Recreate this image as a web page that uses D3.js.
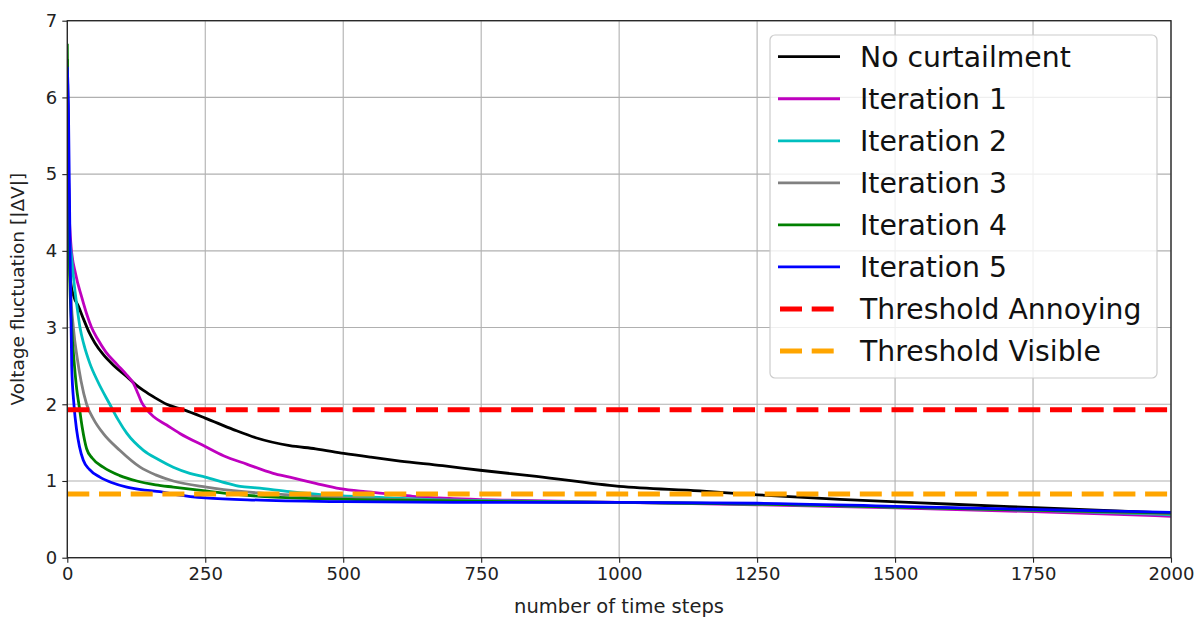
<!DOCTYPE html>
<html>
<head>
<meta charset="utf-8">
<script src="https://cdn.jsdelivr.net/npm/d3@7"></script>
<style>
  html, body { margin: 0; padding: 0; background: #fff; }
  svg { display: block; font-family: "DejaVu Sans", sans-serif; }
</style>
</head>
<body>
<svg id="chart" width="1203" height="621"></svg>
<script>
// Sorted voltage fluctuation curves: [time step, |ΔV|]
const noCurtailment = [[0,6.5],[3,4.5],[6,3.6],[12,3.4],[20,3.28],[30,3.1],[40,2.93],[50,2.8],[65,2.65],[85,2.5],[108,2.36],[125,2.25],[138,2.18],[160,2.08],[180,2.0],[210,1.93],[250,1.82],[301,1.67],[343,1.56],[403,1.46],[450,1.42],[501,1.36],[550,1.31],[603,1.26],[680,1.2],[748,1.14],[850,1.06],[1000,0.93],[1146,0.87],[1251,0.82],[1400,0.76],[1594,0.70],[1800,0.64],[2000,0.58]];
const iteration1 = [[0,6.3],[3,4.6],[7,4.05],[15,3.7],[26,3.4],[35,3.18],[44,3.0],[55,2.85],[70,2.68],[90,2.52],[108,2.38],[120,2.27],[128,2.14],[135,2.02],[145,1.92],[156,1.84],[180,1.73],[204,1.62],[250,1.45],[283,1.33],[325,1.22],[373,1.1],[403,1.05],[450,0.97],[494,0.90],[540,0.86],[585,0.83],[626,0.80],[700,0.77],[800,0.75],[1000,0.72],[1250,0.69],[1500,0.65],[1750,0.60],[2000,0.54]];
const iteration2 = [[0,6.2],[3,4.3],[8,3.9],[12,3.6],[18,3.25],[23,3.0],[30,2.78],[41,2.53],[55,2.3],[77,2.0],[92,1.8],[108,1.62],[138,1.40],[165,1.28],[192,1.18],[222,1.10],[250,1.05],[290,0.97],[313,0.93],[343,0.91],[403,0.86],[463,0.82],[550,0.79],[650,0.76],[800,0.74],[1000,0.72],[1250,0.70],[1500,0.66],[1750,0.62],[2000,0.56]];
const iteration3 = [[0,6.0],[3,4.2],[6,3.5],[11,3.0],[18,2.6],[25,2.3],[35,2.0],[48,1.8],[65,1.62],[95,1.40],[132,1.18],[160,1.08],[192,1.0],[252,0.92],[320,0.86],[403,0.82],[500,0.78],[650,0.75],[800,0.73],[1000,0.72],[1250,0.70],[1500,0.66],[1750,0.62],[2000,0.57]];
const iteration4 = [[0,6.7],[2,5.0],[4,3.8],[8,3.0],[13,2.5],[17,2.2],[21,2.0],[27,1.7],[35,1.42],[45,1.3],[65,1.18],[95,1.07],[126,1.0],[160,0.95],[192,0.92],[250,0.87],[300,0.83],[350,0.80],[450,0.77],[600,0.75],[800,0.73],[1000,0.72],[1250,0.70],[1500,0.66],[1750,0.62],[2000,0.58]];
const iteration5 = [[0,6.4],[2,5.9],[5,4.0],[8,2.5],[12,2.0],[17,1.66],[22,1.45],[29,1.27],[40,1.15],[59,1.05],[80,0.98],[108,0.92],[140,0.88],[168,0.86],[200,0.82],[250,0.78],[350,0.75],[500,0.73],[750,0.72],[1000,0.72],[1250,0.71],[1500,0.67],[1750,0.63],[2000,0.59]];

const thresholdAnnoying = 1.93;
const thresholdVisible = 0.83;

const xTicks = [0, 250, 500, 750, 1000, 1250, 1500, 1750, 2000];
const yTicks = [0, 1, 2, 3, 4, 5, 6, 7];

const seriesNames = ["No curtailment", "Iteration 1", "Iteration 2", "Iteration 3", "Iteration 4", "Iteration 5"];
const seriesData = [noCurtailment, iteration1, iteration2, iteration3, iteration4, iteration5];
const seriesColors = ["#000000", "#bf00bf", "#00bfbf", "#808080", "#008000", "#0000ff"];
const thresholdNames = ["Threshold Annoying", "Threshold Visible"];
const thresholdValues = [thresholdAnnoying, thresholdVisible];
const thresholdColors = ["#ff0000", "#ffa500"];

const svg = d3.select("#chart");
const margin = { left: 67.3, right: 1171, top: 20.7, bottom: 557.7 };

const x = d3.scaleLinear().domain([0, 2000]).range([margin.left, margin.right]);
const y = d3.scaleLinear().domain([0, 7]).range([margin.bottom, margin.top]);

// grid
const grid = svg.append("g").attr("stroke", "#b0b0b0").attr("stroke-width", 1.1);
grid.selectAll(".gx").data(xTicks).join("line")
  .attr("x1", d => x(d)).attr("x2", d => x(d))
  .attr("y1", margin.top).attr("y2", margin.bottom);
grid.selectAll(".gy").data(yTicks).join("line")
  .attr("x1", margin.left).attr("x2", margin.right)
  .attr("y1", d => y(d)).attr("y2", d => y(d));

// curves
const line = d3.line().x(d => x(d[0])).y(d => y(d[1])).curve(d3.curveMonotoneX);
svg.append("clipPath").attr("id", "plotclip").append("rect")
  .attr("x", margin.left).attr("y", margin.top)
  .attr("width", margin.right - margin.left).attr("height", margin.bottom - margin.top);

const plot = svg.append("g").attr("clip-path", "url(#plotclip)");
seriesData.forEach((data, i) => {
  plot.append("path").datum(data)
    .attr("fill", "none")
    .attr("stroke", seriesColors[i])
    .attr("stroke-width", 2.8)
    .attr("stroke-linejoin", "round")
    .attr("d", line);
});

// thresholds
thresholdValues.forEach((v, i) => {
  plot.append("line")
    .attr("x1", x(0)).attr("x2", x(2000))
    .attr("y1", y(v)).attr("y2", y(v))
    .attr("stroke", thresholdColors[i])
    .attr("stroke-width", 5)
    .attr("stroke-dasharray", "22 9.7");
});

// axes
const xAxis = d3.axisBottom(x).tickValues(xTicks).tickSize(5).tickPadding(5).tickFormat(d3.format("d"));
const yAxis = d3.axisLeft(y).tickValues(yTicks).tickSize(5).tickPadding(5).tickFormat(d3.format("d"));

const gx = svg.append("g").attr("transform", `translate(0,${margin.bottom})`).call(xAxis);
const gy = svg.append("g").attr("transform", `translate(${margin.left},0)`).call(yAxis);
[gx, gy].forEach(g => {
  g.select(".domain").remove();
  g.selectAll(".tick line").attr("stroke", "#222").attr("stroke-width", 1.1);
  g.selectAll(".tick text").attr("fill", "#222").style("font-size", "18px").style("font-family", "'DejaVu Sans', sans-serif");
});

// frame
svg.append("rect")
  .attr("x", margin.left).attr("y", margin.top)
  .attr("width", margin.right - margin.left).attr("height", margin.bottom - margin.top)
  .attr("fill", "none").attr("stroke", "#222").attr("stroke-width", 1.3);

// axis labels
svg.append("text")
  .attr("x", 619).attr("y", 613)
  .attr("text-anchor", "middle").attr("fill", "#222")
  .style("font-size", "19.5px")
  .text("number of time steps");
svg.append("text")
  .attr("transform", `translate(24,${(margin.top + margin.bottom) / 2}) rotate(-90)`)
  .attr("text-anchor", "middle").attr("fill", "#222")
  .style("font-size", "18.5px")
  .text("Voltage fluctuation [|ΔV|]");

// legend
const legend = svg.append("g");
legend.append("rect")
  .attr("x", 770).attr("y", 35).attr("width", 387).attr("height", 343)
  .attr("rx", 5).attr("ry", 5)
  .attr("fill", "#fff").attr("fill-opacity", 0.8)
  .attr("stroke", "#cccccc").attr("stroke-width", 1.2);

const legendItems = seriesNames.map((n, i) => ({ name: n, color: seriesColors[i], dashed: false }))
  .concat(thresholdNames.map((n, i) => ({ name: n, color: thresholdColors[i], dashed: true })));

const rowY = d3.scalePoint().domain(d3.range(legendItems.length)).range([56.7, 351]);
legendItems.forEach((item, i) => {
  const cy = rowY(i);
  legend.append("line")
    .attr("x1", 778).attr("x2", 840).attr("y1", cy).attr("y2", cy)
    .attr("stroke", item.color)
    .attr("stroke-width", item.dashed ? 5 : 2.8)
    .attr("stroke-dasharray", item.dashed ? "22 9.7" : null)
    .attr("stroke-dashoffset", item.dashed ? -2 : null);
  legend.append("text")
    .attr("x", 860).attr("y", cy).attr("dy", "0.36em")
    .attr("fill", "#111")
    .style("font-size", "28.3px")
    .text(item.name);
});
</script>
</body>
</html>
